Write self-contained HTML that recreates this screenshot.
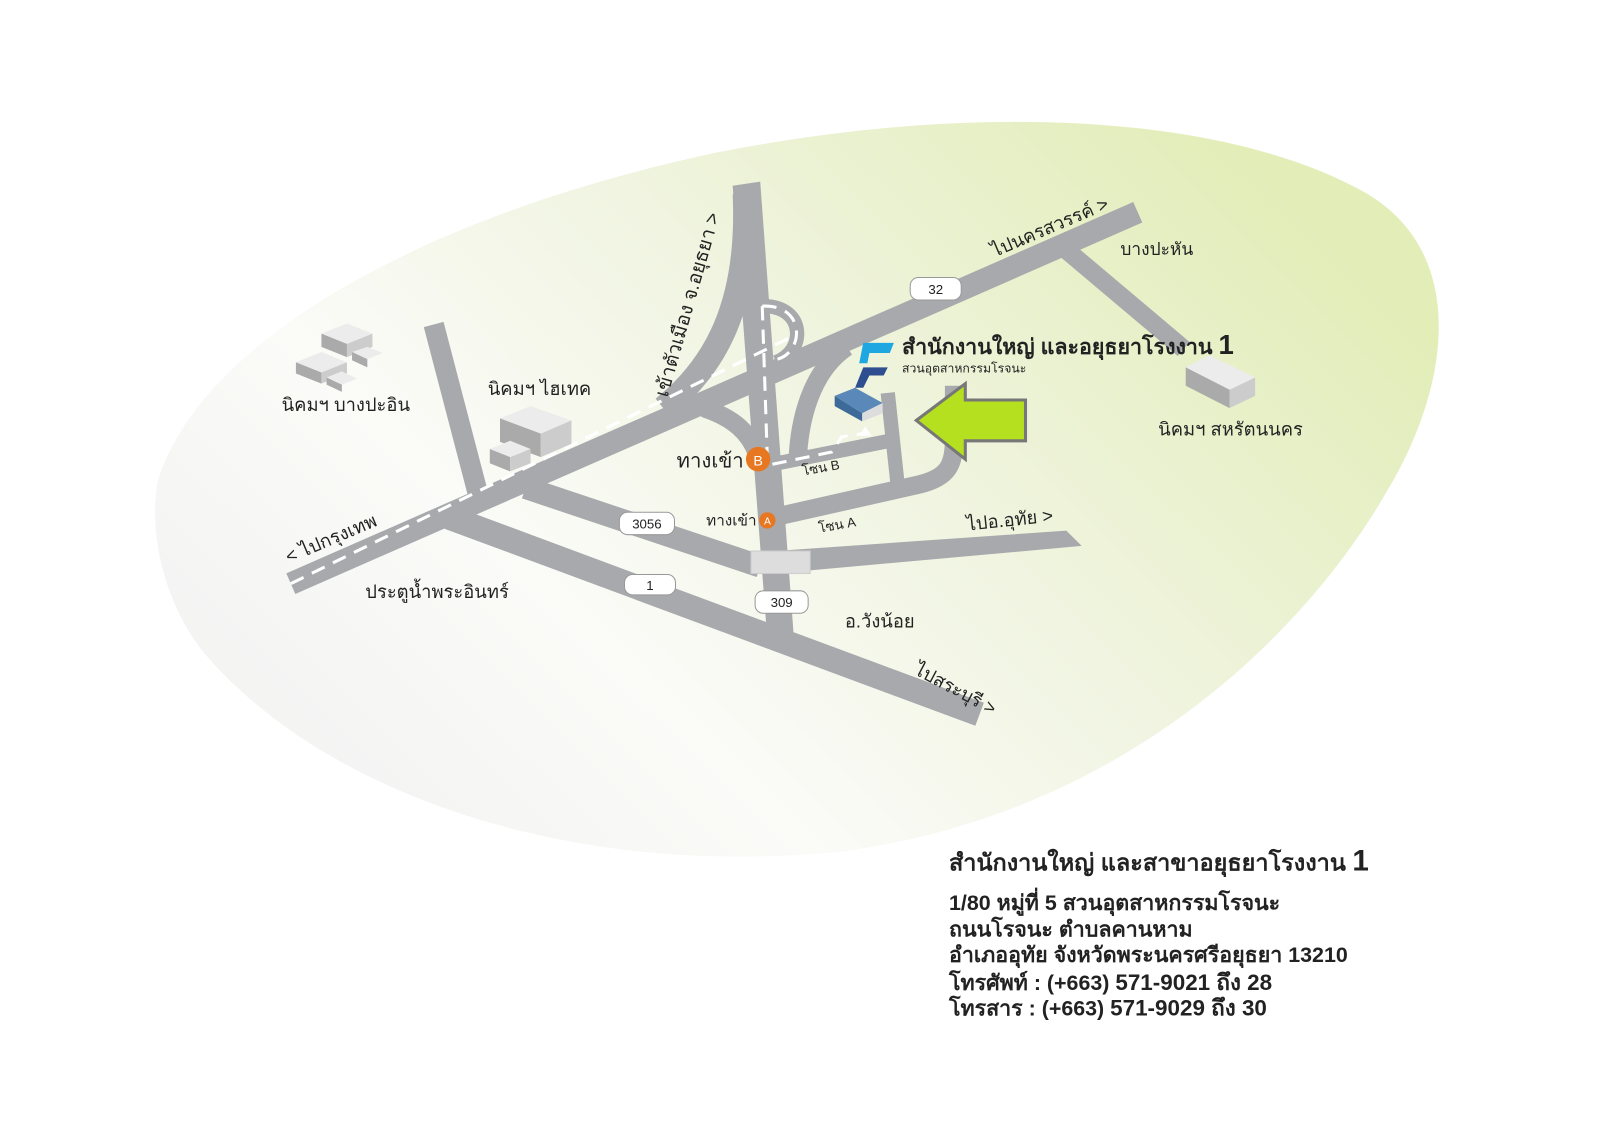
<!DOCTYPE html>
<html><head><meta charset="utf-8"><style>
html,body{margin:0;padding:0;background:#fff;width:1600px;height:1131px;overflow:hidden}
svg{display:block}
text{font-family:"Liberation Sans","DejaVu Sans",sans-serif;fill:#222}
</style></head><body>
<svg width="1600" height="1131" viewBox="0 0 1568 1108.4" preserveAspectRatio="none" xmlns="http://www.w3.org/2000/svg">
<defs>
<linearGradient id="bg" x1="0.05" y1="0.85" x2="1" y2="0.3">
<stop offset="0" stop-color="#f2f2f2"/>
<stop offset="0.3" stop-color="#fbfbf8"/>
<stop offset="0.6" stop-color="#f0f4e0"/>
<stop offset="1" stop-color="#e2edb8"/>
</linearGradient>
</defs>
<path d="M155,470 C200,330 420,210 700,150 C950,100 1200,110 1340,190 C1440,250 1420,380 1360,480 C1280,620 1100,800 820,835 C560,860 320,780 200,640 C160,590 145,520 155,470 Z" fill="url(#bg)"/>
<g stroke="#a7a9ac" fill="none" stroke-linecap="butt">
<line x1="440" y1="507" x2="960" y2="700" stroke-width="24"/>
<line x1="515" y1="478" x2="745" y2="555" stroke-width="22"/>
<line x1="425" y1="318" x2="470" y2="490" stroke-width="20"/>
<path d="M760,540 L1045,520 L1060,535 L760,562 Z" fill="#a7a9ac" stroke="none"/>
<path d="M718,182 L745,178 L778,625 L752,627 Z" fill="#a7a9ac" stroke="none"/>
<path d="M730,190 C735,300 700,360 650,400" stroke-width="24"/>
<path d="M690,400 C720,410 735,425 742,445" stroke-width="18"/>
<path d="M782,445 C785,400 800,360 830,340" stroke-width="18"/>
<path d="M748,300 C790,300 790,345 760,355" stroke-width="14"/>
<line x1="285" y1="572" x2="1115" y2="208" stroke-width="22"/>
<line x1="1045" y1="245" x2="1160" y2="342" stroke-width="18"/>
<path d="M758,507 L900,475 C930,468 935,455 935,430 L935,378" stroke-width="18"/>
<line x1="757" y1="455" x2="872" y2="432" stroke-width="14"/>
<line x1="870" y1="385" x2="880" y2="478" stroke-width="14"/>
</g>
<g stroke="#fff" stroke-width="3" fill="none" stroke-dasharray="14,9">
<line x1="285" y1="572" x2="780" y2="328"/>
<path d="M747,300 C790,298 788,345 762,352"/>
<line x1="747" y1="300" x2="752" y2="450"/>
<path d="M757,455 L815,443 L825,428 L845,425"/>
</g>
<path d="M848,418 L842,427 L854,427 Z" fill="#fff"/>
<rect x="736" y="540" width="58" height="22" fill="#ddd" stroke="#ccc"/>
<g font-size="13" text-anchor="middle">
<rect x="892" y="272" width="50" height="22" rx="8" fill="#fff" stroke="#999"/><text x="917" y="288">32</text>
<rect x="607" y="502" width="54" height="22" rx="8" fill="#fff" stroke="#999"/><text x="634" y="518">3056</text>
<rect x="612" y="563" width="50" height="20" rx="8" fill="#fff" stroke="#999"/><text x="637" y="578">1</text>
<rect x="740" y="579" width="52" height="22" rx="8" fill="#fff" stroke="#999"/><text x="766" y="595">309</text>
</g>
<circle cx="743" cy="450" r="12" fill="#e87722"/><text x="743" y="456" font-size="14" text-anchor="middle" style="fill:#fff">B</text>
<circle cx="752" cy="510" r="8" fill="#e87722"/><text x="752" y="514" font-size="10" text-anchor="middle" style="fill:#fff">A</text>
<g>
<polygon points="315,327 340,317 365,327 340,337" fill="#ececec"/><polygon points="315,327 340,337 340,350 315,340" fill="#aaa"/><polygon points="340,337 365,327 365,340 340,350" fill="#ccc"/>
<polygon points="290,355 315,345 340,355 315,365" fill="#ececec"/><polygon points="290,355 315,365 315,376 290,366" fill="#aaa"/><polygon points="315,365 340,355 340,366 315,376" fill="#ccc"/>
<polygon points="345,345 360,340 375,346 360,352" fill="#ececec"/><polygon points="345,345 360,352 360,360 345,353" fill="#aaa"/>
<polygon points="320,370 335,364 350,371 335,377" fill="#ececec"/><polygon points="320,370 335,377 335,384 320,377" fill="#aaa"/>
<polygon points="490,410 520,398 560,412 530,425" fill="#ececec"/><polygon points="490,410 530,425 530,448 490,433" fill="#aaa"/><polygon points="530,425 560,412 560,435 530,448" fill="#ccc"/>
<polygon points="480,440 500,432 520,440 500,448" fill="#ececec"/><polygon points="480,440 500,448 500,462 480,454" fill="#aaa"/><polygon points="500,448 520,440 520,454 500,462" fill="#ccc"/>
<polygon points="1162,360 1185,348 1230,370 1205,382" fill="#ececec"/><polygon points="1162,360 1205,382 1205,400 1162,378" fill="#aaa"/><polygon points="1205,382 1230,370 1230,388 1205,400" fill="#ccc"/>
<polygon points="818,388 838,380 865,395 845,405" fill="#5a88b8"/><polygon points="818,388 845,405 845,413 818,398" fill="#3d6a99"/><polygon points="845,405 865,395 865,405 845,413" fill="#ddd"/>
</g>
<path d="M846,336 L876,336 L872,346 L852,346 L850,356 L842,356 Z" fill="#1ea7e1"/>
<path d="M846,360 L870,360 L866,368 L852,368 L846,380 L838,380 Z" fill="#2e4e8f"/>
<polygon points="898,412 946,376 946,392 1005,392 1005,432 946,432 946,450" fill="#b4e01f" stroke="#777" stroke-width="3"/>
<g font-size="18">
<text x="276" y="403">นิคมฯ บางปะอิน</text>
<text x="478" y="387">นิคมฯ ไฮเทค</text>
<text x="1098" y="250" font-size="17">บางปะหัน</text>
<text x="1135" y="427">นิคมฯ สหรัตนนคร</text>
<text x="358" y="586">ประตูน้ำพระอินทร์</text>
<text x="828" y="615">อ.วังน้อย</text>
<text x="948" y="520" transform="rotate(-6 948 520)">ไปอ.อุทัย &gt;</text>
<text x="895" y="660" transform="rotate(28 895 660)">ไปสระบุรี &gt;</text>
<text x="283" y="552" transform="rotate(-23 283 552)">&lt; ไปกรุงเทพ</text>
<text x="975" y="252" transform="rotate(-23 975 252)">ไปนครสวรรค์ &gt;</text>
<text x="654" y="390" font-size="19" transform="rotate(-74 654 390)">เข้าตัวเมือง จ.อยุธยา &gt;</text>
<text x="663" y="458" font-size="20">ทางเข้า</text>
<text x="692" y="515" font-size="15">ทางเข้า</text>
<text x="787" y="466" font-size="13" transform="rotate(-10 787 466)">โซน B</text>
<text x="803" y="522" font-size="13" transform="rotate(-10 803 522)">โซน A</text>
<text x="884" y="347" font-size="21" font-weight="bold">สำนักงานใหญ่ และอยุธยาโรงงาน <tspan font-size="27">1</tspan></text>
<text x="884" y="365" font-size="12">สวนอุตสาหกรรมโรจนะ</text>
</g>
<g font-size="21">
<text x="930" y="853" font-size="23" font-weight="bold">สำนักงานใหญ่ และสาขาอยุธยาโรงงาน <tspan font-size="29">1</tspan></text>
<text x="930" y="892" font-weight="bold">1/80 หมู่ที่ 5 สวนอุตสาหกรรมโรจนะ</text>
<text x="930" y="918" font-weight="bold">ถนนโรจนะ ตำบลคานหาม</text>
<text x="930" y="943" font-weight="bold">อำเภออุทัย  จังหวัดพระนครศรีอยุธยา 13210</text>
<text x="930" y="970" font-weight="bold">โทรศัพท์ : (+663)  <tspan font-size="22">571-9021 ถึง 28</tspan></text>
<text x="930" y="995" font-weight="bold">โทรสาร  : (+663)  <tspan font-size="22">571-9029 ถึง 30</tspan></text>
</g>
</svg>
</body></html>
